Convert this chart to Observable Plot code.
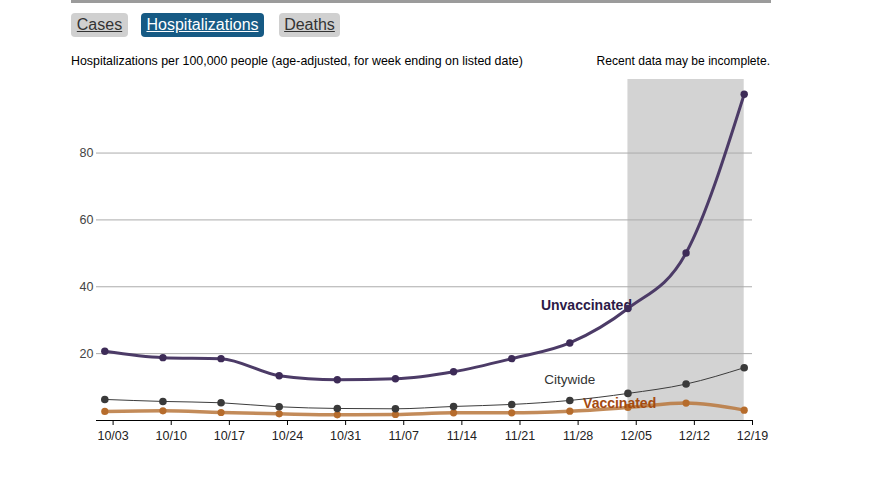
<!DOCTYPE html>
<html>
<head>
<meta charset="utf-8">
<script src="https://cdn.jsdelivr.net/npm/d3@7"></script>
<script src="https://cdn.jsdelivr.net/npm/@observablehq/plot@0.6"></script>
<style>
  html, body { margin: 0; padding: 0; background: #fff; overflow: hidden; }
  body { font-family: "Liberation Sans", Arial, sans-serif; width: 877px; height: 491px; position: relative; }
  .topbar { position: absolute; left: 71px; top: 0; width: 700px; height: 3px; background: #9b9b9b; }
  .btn { position: absolute; top: 13px; height: 24px; line-height: 24px; font-size: 16px; text-align: center;
         border-radius: 4px; text-decoration: underline; background: #d0d0d0; color: #333; }
  .btn.active { background: #165a84; color: #fff; }
  .sub { position: absolute; top: 54px; font-size: 12px; color: #000; }
  #chart { position: absolute; left: 0; top: 70px; }
</style>
</head>
<body>
<div class="topbar"></div>
<div class="btn" style="left:71px;width:57px">Cases</div>
<div class="btn active" style="left:141px;width:123px">Hospitalizations</div>
<div class="btn" style="left:279px;width:61px">Deaths</div>
<div class="sub" style="left:71px;font-size:12.4px">Hospitalizations per 100,000 people (age-adjusted, for week ending on listed date)</div>
<div class="sub" style="right:107px;font-size:12.1px">Recent data may be incomplete.</div>
<div id="chart"></div>
<script>
// Weekly rates per 100,000 people, week ending on each date
const weeks = ["2021-10-02","2021-10-09","2021-10-16","2021-10-23","2021-10-30","2021-11-06",
               "2021-11-13","2021-11-20","2021-11-27","2021-12-04","2021-12-11","2021-12-18"];
const unvaccinated = [20.7, 18.8, 18.5, 13.4, 12.2, 12.5, 14.6, 18.5, 23.2, 33.5, 50.1, 97.6];
const citywide     = [6.3, 5.7, 5.3, 4.1, 3.6, 3.5, 4.2, 4.8, 6.0, 8.1, 10.9, 15.8];
const vaccinated   = [2.7, 2.9, 2.4, 2.0, 1.7, 1.8, 2.3, 2.3, 2.8, 3.9, 5.2, 3.1];

// Weeks whose data may still be incomplete
const incomplete = ["2021-12-04", "2021-12-18"];

// Axis ticks
const xTicks = ["2021-10-03","2021-10-10","2021-10-17","2021-10-24","2021-10-31","2021-11-07",
                "2021-11-14","2021-11-21","2021-11-28","2021-12-05","2021-12-12","2021-12-19"];
const yTicks = [20, 40, 60, 80];
const xDomain = ["2021-10-01", "2021-12-19"];
const yMax = 102;

// Series labels placed beside the lines
const labelText   = ["Unvaccinated", "Citywide", "Vaccinated"];
const labelDate   = ["2021-11-29", "2021-11-27", "2021-12-03"];
const labelValue  = [34.3, 12.1, 5.1];
const labelColor  = ["#2c1a47", "#333333", "#a44a10"];
const labelWeight = ["bold", "normal", "bold"];
const labelSize   = [14, 13.5, 14];

const parse = s => new Date(s + "T00:00Z");
const series = [
  {name: "Unvaccinated", values: unvaccinated},
  {name: "Citywide", values: citywide},
  {name: "Vaccinated", values: vaccinated}
];
const rows = series.flatMap(s => weeks.map((w, i) => ({series: s.name, date: parse(w), value: s.values[i]})));
const of = name => rows.filter(d => d.series === name);
const label = i =>
  Plot.text([{date: parse(labelDate[i]), value: labelValue[i], text: labelText[i]}], {
    x: "date", y: "value", text: "text", fill: labelColor[i], fontWeight: labelWeight[i],
    fontSize: labelSize[i], textAnchor: "middle"
  });

const chart = Plot.plot({
  width: 877,
  height: 420,
  marginLeft: 96,
  marginRight: 125,
  marginTop: 9,
  marginBottom: 70,
  style: {fontFamily: "'Liberation Sans', Arial, sans-serif", fontSize: "12px", background: "transparent"},
  x: {type: "utc", domain: xDomain.map(parse)},
  y: {domain: [0, yMax]},
  marks: [
    Plot.rect([{x1: parse(incomplete[0]), x2: parse(incomplete[1])}], {x1: "x1", x2: "x2", fill: "#d3d3d3"}),
    Plot.gridY(yTicks, {stroke: "#ababab", strokeOpacity: 1}),
    Plot.axisY(yTicks, {tickSize: 0, tickPadding: 3, fill: "#444", label: null, fontSize: 12.5}),
    Plot.axisX(xTicks.map(parse), {tickSize: 5, tickPadding: 6, tickFormat: d3.utcFormat("%m/%d"), fill: "#222", stroke: "#000", label: null, fontSize: 12.5}),
    Plot.ruleY([0], {stroke: "#000", strokeWidth: 1.2}),
    label(0),
    label(1),
    Plot.line(of("Vaccinated"), {x: "date", y: "value", stroke: "#b8773c", strokeWidth: 3.5, strokeOpacity: 0.85, curve: "monotone-x"}),
    Plot.dot(of("Vaccinated"), {x: "date", y: "value", r: 3.6, fill: "#b66c2c"}),
    label(2),
    Plot.line(of("Citywide"), {x: "date", y: "value", stroke: "#3c3c3c", strokeWidth: 1, curve: "monotone-x"}),
    Plot.dot(of("Citywide"), {x: "date", y: "value", r: 3.8, fill: "#3a3a3a"}),
    Plot.line(of("Unvaccinated"), {x: "date", y: "value", stroke: "#4c3b67", strokeWidth: 3, curve: "monotone-x"}),
    Plot.dot(of("Unvaccinated"), {x: "date", y: "value", r: 3.7, fill: "#3d2b57"})
  ]
});
document.getElementById("chart").appendChild(chart);
</script>
</body>
</html>
